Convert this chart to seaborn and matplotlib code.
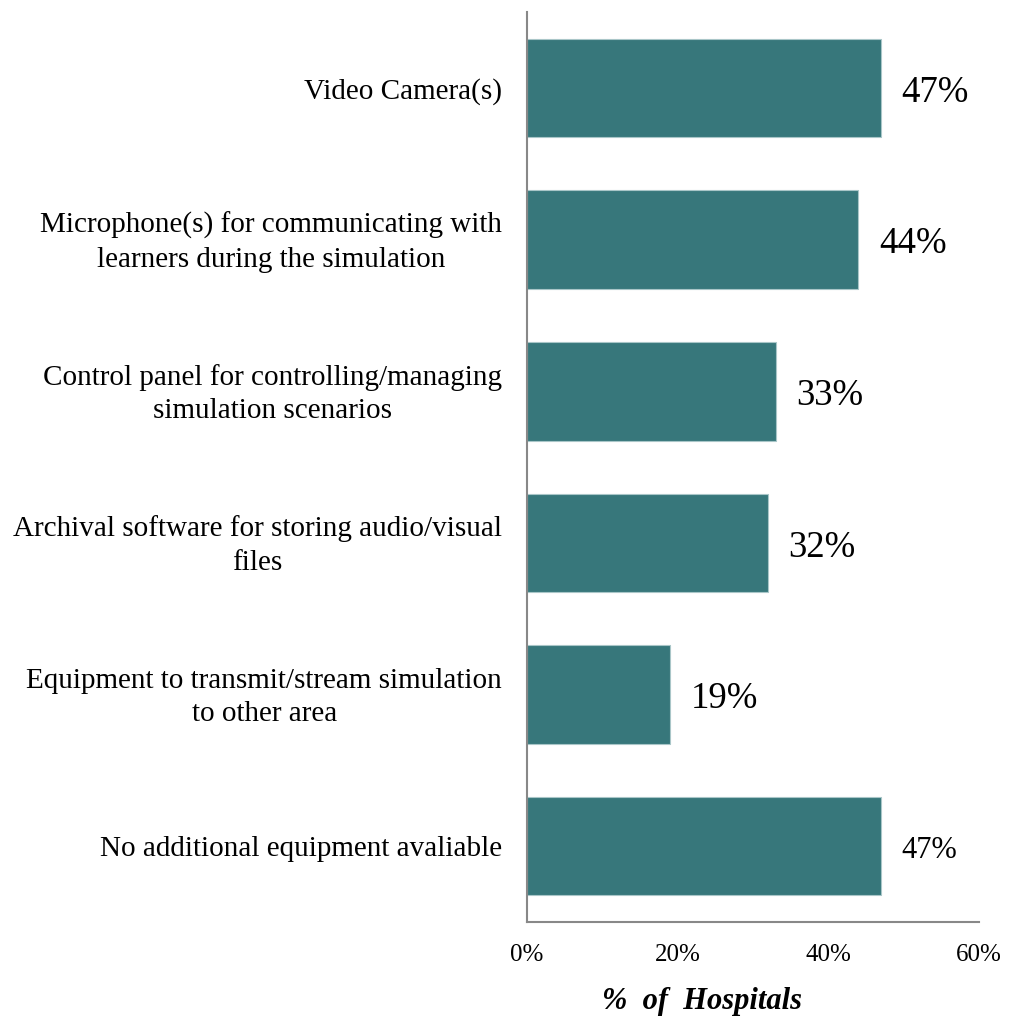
import matplotlib
matplotlib.use("Agg")
import matplotlib.pyplot as plt
import matplotlib.transforms as mtransforms
import seaborn as sns
import pandas as pd

categories = [
    "Video Camera(s)",
    "Microphone(s) for communicating with\nlearners during the simulation",
    "Control panel for controlling/managing\nsimulation scenarios",
    "Archival software for storing audio/visual\nfiles",
    "Equipment to transmit/stream simulation\nto other area",
    "No additional equipment avaliable",
]
percent = [47, 44, 33, 32, 19, 47]
value_labels = ["47%", "44%", "33%", "32%", "19%", "47%"]
x_ticks = [0, 20, 40, 60]
x_tick_labels = ["0%", "20%", "40%", "60%"]

sns.set_style("white")
plt.rcParams["font.family"] = ["Liberation Serif", "DejaVu Serif"]
plt.rcParams["text.color"] = "black"
plt.rcParams["xtick.color"] = "black"
plt.rcParams["ytick.color"] = "black"
plt.rcParams["axes.labelcolor"] = "black"

df = pd.DataFrame({"category": categories, "percent": percent})

fig = plt.figure(figsize=(10.09, 10.18), dpi=100)
ax = fig.add_axes([0.5223, 0.0943, 0.448, 0.8937])

sns.barplot(data=df, y="category", x="percent", orient="h", color="#37777b",
            saturation=1, width=0.65, edgecolor="#a9c6c8", linewidth=0.8, ax=ax)

ax.set_xlim(0, 60)
ax.set_xticks(x_ticks)
ax.set_xticklabels(x_tick_labels, fontsize=18)
ax.tick_params(axis="x", length=0, pad=16)
ax.tick_params(axis="y", length=0, pad=18)
lift = mtransforms.ScaledTranslation(0, 4 / 100, fig.dpi_scale_trans)
for lbl in ax.get_yticklabels():
    lbl.set_fontsize(21)
    lbl.set_multialignment("center")
    lbl.set_linespacing(1.38)
    if "\n" in lbl.get_text():
        lbl.set_transform(lbl.get_transform() + lift)

ax.set_ylabel("")
ax.set_xlabel("%  of  Hospitals", fontsize=22, fontweight="bold", style="italic")
ax.xaxis.set_label_coords(0.388, -0.071)

for side in ["top", "right"]:
    ax.spines[side].set_visible(False)
for side in ["left", "bottom"]:
    ax.spines[side].set_color("#888888")
    ax.spines[side].set_linewidth(1.5)

# value annotations next to each bar
for i, (v, txt) in enumerate(zip(percent, value_labels)):
    last = i == len(percent) - 1
    ax.text(v + 2.7, i + 0.03, txt, va="center", ha="left",
            fontsize=22 if last else 26.5)

fig.savefig("out.png", dpi=100)
